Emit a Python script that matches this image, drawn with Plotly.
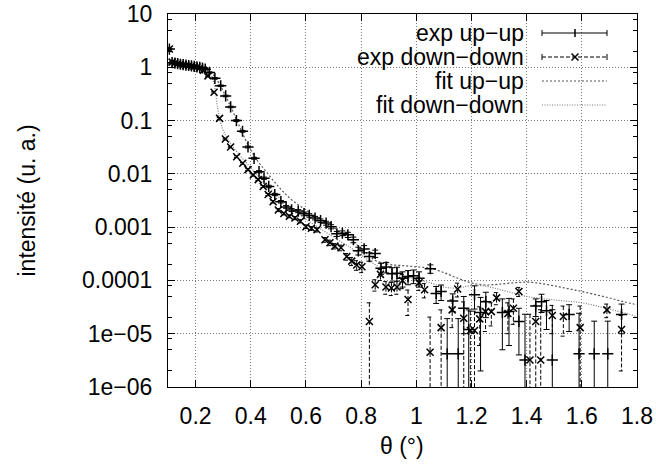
import plotly.graph_objects as go

# ---------------- data ----------------
uu_theta = [0.105, 0.115, 0.125, 0.135, 0.145, 0.155, 0.165, 0.175, 0.185, 0.195,
            0.205, 0.215, 0.225, 0.235, 0.25, 0.27, 0.291, 0.309, 0.327, 0.348,
            0.37, 0.39, 0.412, 0.43, 0.448, 0.465, 0.487, 0.509, 0.528, 0.548,
            0.572, 0.593, 0.612, 0.633, 0.653, 0.673, 0.691, 0.712, 0.732, 0.752,
            0.772, 0.79, 0.811, 0.83, 0.851, 0.872, 0.891, 0.912, 0.93, 0.95,
            0.97, 0.99, 1.01, 1.051, 1.072, 1.09, 1.112, 1.132, 1.152, 1.172,
            1.19, 1.211, 1.233, 1.252, 1.312, 1.336, 1.372, 1.394, 1.433, 1.454,
            1.472, 1.493, 1.554, 1.59, 1.645, 1.694, 1.744]
uu_int = [2.2, 1.22, 1.20, 1.17, 1.14, 1.12, 1.10, 1.08, 1.06, 1.04,
          1.02, 1.00, 0.97, 0.92, 0.80, 0.62, 0.45, 0.29, 0.18, 0.10,
          0.063, 0.032, 0.0196, 0.011, 0.0083, 0.0058, 0.0041, 0.0030, 0.0024, 0.0021,
          0.0020, 0.0018, 0.00166, 0.00148, 0.00132, 0.00119, 0.00102, 0.00075, 0.00077, 0.00072,
          0.00058, 0.00036, 0.00039, 0.00028, 0.00032, 0.00017, 0.000178, 0.000133, 0.000137, 0.00011,
          0.000118, 0.000122, 0.00011, 0.000166, 0.000057, 0.000062, 0.0000042, 0.000041, 0.0000042, 0.00003,
          0.000012, 0.000054, 0.000025, 0.00004, 0.000025, 0.000026, 0.000017, 0.0000032, 0.000033, 0.00004,
          0.000027, 0.0000032, 0.000023, 0.0000042, 0.0000042, 0.0000042, 0.000023]
uu_err = [0.05, 0.03, 0.03, 0.03, 0.03, 0.03, 0.03, 0.03, 0.03, 0.03,
          0.03, 0.03, 0.03, 0.03, 0.02, 0.02, 0.015, 0.01, 0.006, 0.004,
          0.0025, 0.0013, 0.0008, 0.0005, 0.0004, 0.0003, 0.0002, 0.00016, 0.00014, 0.00013,
          0.00013, 0.00012, 0.00012, 0.00011, 0.0001, 0.0001, 0.00009, 0.00008, 0.00008, 0.00008,
          0.00007, 0.00006, 0.00006, 0.00005, 0.00005, 0.00004, 0.00004, 0.00004, 0.00004, 0.000035,
          0.000035, 0.000035, 0.000035, 0.00003, 0.00002, 0.00002, 0.000015, 0.000015, 0.000015, 0.00002,
          0.000016, 0.000025, 0.000023, 0.00002, 0.00002, 0.00002, 0.000013, 0.00002, 0.000012, 0.000015,
          0.000015, 0.000025, 0.000012, 0.00002, 0.000013, 0.000013, 0.000013]

dd_theta = [0.105, 0.115, 0.125, 0.135, 0.145, 0.155, 0.165, 0.175, 0.185, 0.195,
            0.205, 0.215, 0.228, 0.245, 0.267, 0.287, 0.308, 0.327, 0.349, 0.371,
            0.39, 0.409, 0.427, 0.445, 0.463, 0.481, 0.5, 0.52, 0.54, 0.56,
            0.58, 0.60, 0.62, 0.64, 0.669, 0.687, 0.705, 0.727, 0.748, 0.766,
            0.784, 0.803, 0.83, 0.851, 0.87, 0.89, 0.91, 0.93, 0.95, 0.97,
            1.01, 1.03, 1.05, 1.09, 1.13, 1.15, 1.172, 1.196, 1.211, 1.23,
            1.251, 1.272, 1.291, 1.332, 1.352, 1.372, 1.412, 1.433, 1.451, 1.493,
            1.533, 1.594, 1.691, 1.744]
dd_int = [2.2, 1.25, 1.20, 1.16, 1.13, 1.11, 1.09, 1.07, 1.05, 1.03,
          1.01, 0.97, 0.88, 0.69, 0.34, 0.11, 0.045, 0.032, 0.021, 0.0158,
          0.012, 0.0095, 0.0078, 0.0058, 0.0041, 0.0030, 0.0021, 0.0018, 0.0016, 0.00148,
          0.00129, 0.00102, 0.00095, 0.00089, 0.00058, 0.00051, 0.00044, 0.00041, 0.00028, 0.00023,
          0.000195, 0.00018, 0.000017, 0.000083, 0.00013, 0.000075, 0.000072, 0.000075, 0.0001, 0.000044,
          0.00009, 0.000067, 0.0000045, 0.000013, 0.000028, 0.000069, 0.0000195, 0.0000115, 0.0000115, 0.000019,
          0.000026, 0.000026, 0.000047, 0.000024, 0.00003, 0.000062, 0.0000032, 0.000017, 0.0000032, 0.000022,
          0.000021, 0.000013, 0.000028, 0.000012]
dd_err = [0.05, 0.03, 0.03, 0.03, 0.03, 0.03, 0.03, 0.03, 0.03, 0.03,
          0.03, 0.03, 0.03, 0.02, 0.01, 0.004, 0.0015, 0.001, 0.0008, 0.0006,
          0.0005, 0.0004, 0.0003, 0.00025, 0.0002, 0.00015, 0.00012, 0.0001, 0.0001, 0.0001,
          0.00009, 0.00008, 0.00008, 0.00008, 0.00006, 0.00006, 0.00005, 0.00005, 0.00004, 0.00004,
          0.00004, 0.00004, 0.000021, 0.00002, 0.00003, 0.00002, 0.00002, 0.00002, 0.00003, 0.000022,
          0.000025, 0.00002, 0.000016, 0.000015, 0.000015, 0.00002, 0.00002, 0.000015, 0.000015, 0.000013,
          0.000015, 0.000012, 0.000012, 0.000014, 0.000015, 0.000012, 0.00002, 0.000017, 0.000025, 0.000012,
          0.000012, 0.00002, 0.000008, 0.00001]

fit_uu_theta = [0.10, 0.15, 0.20, 0.23, 0.25, 0.27, 0.29, 0.31, 0.33, 0.35,
                0.37, 0.39, 0.41, 0.43, 0.45, 0.50, 0.55, 0.60, 0.65, 0.70,
                0.75, 0.80, 0.85, 0.90, 0.95, 1.00, 1.05, 1.10, 1.15, 1.20,
                1.25, 1.30, 1.35, 1.40, 1.45, 1.50, 1.55, 1.60, 1.65, 1.70,
                1.75, 1.80]
fit_uu_int = [1.15, 1.12, 1.05, 0.97, 0.88, 0.66, 0.45, 0.28, 0.17, 0.10,
              0.058, 0.035, 0.023, 0.016, 0.012, 0.0058, 0.0032, 0.0021, 0.0014, 0.00098,
              0.00065, 0.0004, 0.00024, 0.0002, 0.00019, 0.00018, 0.00017, 0.00014, 0.00011, 0.00009,
              0.000082, 0.000085, 0.00009, 0.000093, 0.000088, 0.000079, 0.00007, 0.000062, 0.000054, 0.000047,
              0.00004, 0.000035]

fit_dd_theta = [0.10, 0.15, 0.20, 0.23, 0.25, 0.26, 0.27, 0.28, 0.29, 0.30,
                0.32, 0.35, 0.40, 0.45, 0.50, 0.55, 0.60, 0.65, 0.70, 0.75,
                0.80, 0.85, 0.90, 0.95, 1.00, 1.05, 1.10, 1.15, 1.20, 1.25,
                1.30, 1.35, 1.40, 1.50, 1.60, 1.70, 1.80]
fit_dd_int = [1.12, 1.09, 1.03, 0.95, 0.82, 0.65, 0.40, 0.17, 0.095, 0.066,
              0.042, 0.026, 0.013, 0.0068, 0.0037, 0.0022, 0.0014, 0.00095, 0.00065, 0.00045,
              0.00030, 0.0002, 0.00014, 0.00012, 0.000105, 0.00009, 0.000075, 0.000072, 0.00008, 0.000078,
              0.000068, 0.000058, 0.00005, 0.000043, 0.000038, 0.000029, 0.000021]

x_tickvals = [0.2, 0.4, 0.6, 0.8, 1.0, 1.2, 1.4, 1.6, 1.8]
y_tickvals = [1e-6, 1e-5, 1e-4, 1e-3, 1e-2, 1e-1, 1, 10]
y_ticktext = ["1e\u221206", "1e\u221205", "0.0001", "0.001", "0.01", "0.1", "1", "10"]
legend_labels = ["exp up\u2212up", "exp down\u2212down", "fit up\u2212up", "fit down\u2212down"]
x_title = "\u03b8 (\u00b0)"
y_title = "intensit\u00e9 (u. a.)"

# ---------------- layout geometry ----------------
W, H = 656, 464
L, R, T, B = 168, 19, 14, 77
PW, PH = W - L - R, H - T - B
X_RANGE = [0.1, 1.8]
Y_RANGE = [-6, 1]
FONT = "Liberation Sans, Arial, Helvetica, sans-serif"
FS = 23


def px(xp):
    return (xp - L) / PW


def py(yp):
    return (H - B - yp) / PH


fig = go.Figure()

# fits
fig.add_trace(go.Scatter(x=fit_uu_theta, y=fit_uu_int, mode="lines", line_shape="spline",
                         line=dict(color="#555555", width=1.2, dash="2px,2px"),
                         showlegend=False, hoverinfo="skip"))
fig.add_trace(go.Scatter(x=fit_dd_theta, y=fit_dd_int, mode="lines", line_shape="spline",
                         line=dict(color="#777777", width=1.2, dash="1px,1.5px"),
                         showlegend=False, hoverinfo="skip"))

# dashed error bars for down-down (built from the data arrays)
cw = 0.01
floor_val = 10 ** (Y_RANGE[0] - 0.5)
seg_x, seg_y = [], []
for xv, yv, ev in zip(dd_theta, dd_int, dd_err):
    lo, hi = yv - ev, yv + ev
    seg_x += [xv, xv, None]
    seg_y += [hi, lo if lo > 0 else floor_val, None]
    seg_x += [xv - cw, xv + cw, None]
    seg_y += [hi, hi, None]
    if lo > 0:
        seg_x += [xv - cw, xv + cw, None]
        seg_y += [lo, lo, None]
fig.add_trace(go.Scatter(x=seg_x, y=seg_y, mode="lines",
                         line=dict(color="black", width=1, dash="4px,2px"),
                         showlegend=False, hoverinfo="skip", connectgaps=False))
fig.add_trace(go.Scatter(x=dd_theta, y=dd_int, mode="markers",
                         marker=dict(symbol="x-thin", size=7, color="black",
                                     line=dict(color="black", width=1.5)),
                         showlegend=False))

# up-up with solid error bars
fig.add_trace(go.Scatter(x=uu_theta, y=uu_int, mode="markers",
                         error_y=dict(type="data", array=uu_err, visible=True,
                                      color="black", thickness=1, width=3),
                         marker=dict(symbol="cross-thin", size=8, color="black",
                                     line=dict(color="black", width=1.5)),
                         showlegend=False))

axis_common = dict(showline=True, linecolor="black", linewidth=1, mirror="allticks",
                   ticks="inside", ticklen=7, tickcolor="black", tickwidth=1,
                   showgrid=True, gridcolor="#7a7a7a", griddash="1px,2px", gridwidth=1,
                   zeroline=False, tickfont=dict(family=FONT, size=FS, color="black"))

fig.update_xaxes(range=X_RANGE, tickvals=x_tickvals, ticklabelstandoff=8, **axis_common)
minor_vals = [k * 10 ** e for e in range(-6, 1) for k in (2, 5, 8)]
fig.update_yaxes(type="log", range=Y_RANGE, tickvals=y_tickvals, ticktext=y_ticktext,
                 ticklabelstandoff=10,
                 minor=dict(tickvals=minor_vals, ticks="inside", ticklen=4,
                            tickcolor="black", showgrid=False),
                 **axis_common)

shapes = []
annotations = []

# white key box (covers grid, below traces)
shapes.append(dict(type="rect", xref="paper", yref="paper", layer="between",
                   x0=px(337), x1=px(622), y0=py(117), y1=py(16),
                   fillcolor="white", line=dict(width=0)))

row_y = [33, 57, 81, 105]
text_right = 526
s0, s1, sm = 542, 607, 575
styles = [("solid", "#000000", "plus"), ("4px,2px", "#000000", "x"),
          ("2px,2px", "#555555", None), ("1px,1.5px", "#777777", None)]
for lab, yy, (dash, col, mk) in zip(legend_labels, row_y, styles):
    annotations.append(dict(text=lab, xref="paper", yref="paper", x=px(text_right), y=py(yy),
                            xanchor="right", yanchor="middle", showarrow=False,
                            font=dict(family=FONT, size=FS, color="black")))
    shapes.append(dict(type="line", xref="paper", yref="paper", x0=px(s0), x1=px(s1),
                       y0=py(yy), y1=py(yy), line=dict(color=col, width=1.2, dash=dash)))
    if mk is not None:
        for xe in (s0, s1):
            shapes.append(dict(type="line", xref="paper", yref="paper", x0=px(xe), x1=px(xe),
                               y0=py(yy - 3), y1=py(yy + 3), line=dict(color="black", width=1)))
        if mk == "plus":
            shapes.append(dict(type="line", xref="paper", yref="paper", x0=px(sm), x1=px(sm),
                               y0=py(yy - 4), y1=py(yy + 4), line=dict(color="black", width=1.5)))
        else:
            shapes.append(dict(type="line", xref="paper", yref="paper", x0=px(sm - 3.5), x1=px(sm + 3.5),
                               y0=py(yy - 3.5), y1=py(yy + 3.5), line=dict(color="black", width=1.5)))
            shapes.append(dict(type="line", xref="paper", yref="paper", x0=px(sm - 3.5), x1=px(sm + 3.5),
                               y0=py(yy + 3.5), y1=py(yy - 3.5), line=dict(color="black", width=1.5)))

# axis titles
annotations.append(dict(text=x_title, xref="paper", yref="paper", x=px(402), y=py(446),
                        xanchor="center", yanchor="middle", showarrow=False,
                        font=dict(family=FONT, size=FS, color="black")))
annotations.append(dict(text=y_title, xref="paper", yref="paper", x=px(26), y=0.5,
                        xanchor="center", yanchor="middle", textangle=-90, showarrow=False,
                        font=dict(family=FONT, size=FS, color="black")))

fig.update_layout(width=W, height=H, margin=dict(l=L, r=R, t=T, b=B, autoexpand=False),
                  paper_bgcolor="white", plot_bgcolor="white",
                  shapes=shapes, annotations=annotations, showlegend=False,
                  font=dict(family=FONT, size=FS, color="black"))

fig.write_html("out.html", config={"displayModeBar": False},
               post_script="document.body.style.margin='0';document.body.style.padding='0';"
                           "document.documentElement.style.overflow='hidden';")
